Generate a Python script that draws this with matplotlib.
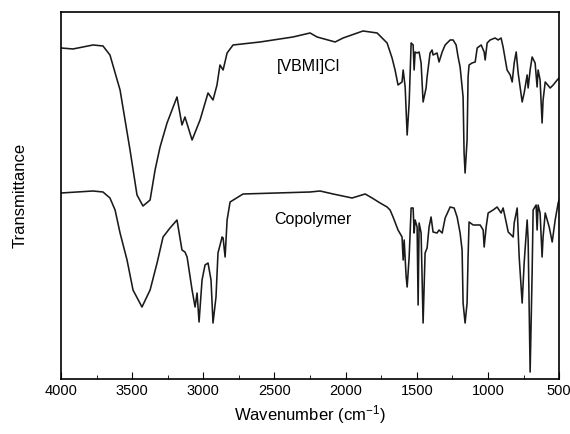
import matplotlib
matplotlib.use("Agg")
import matplotlib.pyplot as plt
from matplotlib.ticker import MultipleLocator
import numpy as np

plt.rcParams['font.family'] = ['Liberation Sans', 'DejaVu Sans']
plt.rcParams['mathtext.default'] = 'regular'

# [VBMI]Cl spectrum (wavenumber, transmittance a.u.)
vbmi_wn = [4000, 3916, 3775, 3705, 3656, 3585, 3515, 3466, 3424, 3374, 3339, 3304, 3255,
           3185, 3150, 3129, 3079, 3023, 2967, 2932, 2904, 2883, 2861, 2833, 2791, 2601,
           2370, 2250, 2201, 2074, 2018, 1878, 1779, 1709, 1674, 1653, 1632, 1604, 1596,
           1582, 1568, 1554, 1540, 1526, 1519, 1512, 1498, 1484, 1470, 1456, 1435, 1428,
           1407, 1393, 1386, 1358, 1344, 1322, 1301, 1266, 1245, 1224, 1210, 1196, 1175,
           1168, 1161, 1147, 1140, 1133, 1112, 1090, 1076, 1048, 1027, 1020, 1006, 985,
           950, 929, 908, 894, 866, 844, 830, 816, 802, 788, 760, 746, 725, 718, 704,
           690, 669, 655, 648, 634, 620, 613, 598, 563, 542, 514, 500]
vbmi_t = [331, 330, 334, 333, 324, 289, 229, 184, 173, 179, 209, 232, 256,
          282, 254, 262, 239, 259, 286, 279, 294, 314, 309, 326, 334, 337,
          342, 346, 342, 337, 341, 348, 346, 336, 321, 309, 294, 297, 309,
          292, 244, 276, 336, 334, 309, 327, 326, 327, 316, 277, 291, 302,
          326, 329, 324, 326, 317, 327, 334, 339, 339, 334, 322, 312, 282,
          226, 206, 239, 302, 314, 316, 317, 331, 334, 327, 319, 336, 339,
          341, 339, 341, 332, 309, 304, 297, 316, 327, 306, 277, 286, 304, 291, 309,
          322, 316, 292, 309, 299, 256, 279, 297, 291, 294, 299, 301]

# Copolymer spectrum
copo_wn = [4000, 3775, 3705, 3656, 3620, 3585, 3536, 3494, 3431, 3374, 3325, 3283, 3234,
           3185, 3150, 3129, 3114, 3079, 3058, 3044, 3030, 3009, 2988, 2967, 2946, 2932,
           2911, 2897, 2868, 2861, 2847, 2833, 2812, 2721, 2250, 2180, 2088, 1955, 1863,
           1814, 1758, 1709, 1688, 1667, 1632, 1604, 1596, 1589, 1575, 1568, 1554, 1540,
           1526, 1519, 1512, 1498, 1491, 1484, 1470, 1456, 1442, 1428, 1414, 1400, 1386,
           1358, 1344, 1322, 1301, 1266, 1238, 1217, 1196, 1182, 1175, 1161, 1147, 1140,
           1133, 1104, 1055, 1034, 1027, 1013, 999, 964, 936, 908, 894, 880, 858, 823,
           816, 795, 781, 760, 746, 725, 718, 704, 690, 683, 662, 655, 648, 634, 620,
           613, 598, 570, 549, 528, 507, 500]
copo_t = [186, 188, 187, 181, 169, 146, 119, 89, 72, 89, 116, 142, 151,
          159, 129, 127, 122, 89, 72, 86, 57, 99, 114, 116, 99, 56,
          82, 126, 142, 141, 122, 159, 177, 185, 187, 188, 185, 181, 185,
          181, 176, 172, 169, 162, 149, 142, 119, 139, 102, 92, 122, 171,
          171, 146, 159, 152, 74, 156, 146, 56, 126, 131, 152, 162, 147,
          146, 149, 146, 161, 172, 171, 162, 146, 129, 76, 56, 76, 122,
          157, 154, 154, 149, 132, 152, 166, 169, 172, 166, 171, 162, 147, 142,
          156, 171, 122, 76, 116, 159, 139, 7, 106, 169, 174, 149, 174, 166, 122,
          142, 166, 152, 137, 159, 176, 179]

fig = plt.figure(figsize=(5.7, 4.34), dpi=100)
ax = fig.add_axes([0.107, 0.1267, 0.874, 0.8457])

ax.plot(vbmi_wn, vbmi_t, color='#1a1a1a', lw=1.15)
ax.plot(copo_wn, copo_t, color='#1a1a1a', lw=1.15)

ax.text(2264, 312, '[VBMI]Cl', fontsize=11.5, ha='center', va='center')
ax.text(2229, 159, 'Copolymer', fontsize=11.5, ha='center', va='center')

ax.set_xlim(4000, 500)
ax.set_ylim(0, 367)
ax.xaxis.set_major_locator(MultipleLocator(500))
ax.xaxis.set_minor_locator(MultipleLocator(250))
ax.tick_params(axis='x', which='both', direction='in', top=False, labelsize=10.5)
ax.tick_params(axis='x', which='major', length=5)
ax.tick_params(axis='x', which='minor', length=3)
ax.set_yticks([])
for s in ax.spines.values():
    s.set_linewidth(1.2)

ax.set_xlabel('Wavenumber (cm$^{-1}$)', fontsize=12)
ax.set_ylabel('Transmittance', fontsize=12, labelpad=24)

fig.savefig('out.png', dpi=100)
